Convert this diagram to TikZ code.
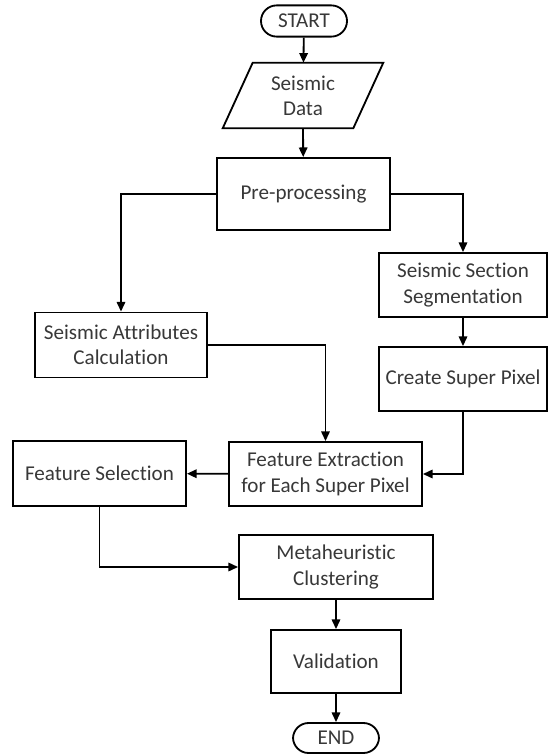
\documentclass[tikz,border=0pt]{standalone}
\usepackage{fontspec}
\setmainfont{Carlito}[Ligatures=NoCommon]
\usepackage{tikz}
\usetikzlibrary{arrows.meta}

\begin{document}
\begin{tikzpicture}[x=0.025cm,y=-0.025cm,
    every node/.style={font=\fontsize{15}{18}\selectfont, text=black!78, align=center, inner sep=1pt},
    box/.style={draw=black, line width=1.3pt, minimum width=#1, minimum height=1.6cm},
    term/.style={draw=black, line width=1.3pt, minimum width=2.15cm, minimum height=0.78cm, rounded corners=0.39cm},
    link/.style={line width=1.3pt, -{Triangle[length=0.24cm,width=0.21cm]}}]
        \useasboundingbox (0,0) rectangle (548,756);
        \node[term] (start) at (304,21) {START};
        \node[minimum width=3.25cm, minimum height=1.625cm] (data) at (303,95.5) {Seismic\\Data};
        \draw[line width=1.3pt] ([xshift=15*0.025cm]data.north west) -- ([xshift=15*0.025cm]data.north east)
            -- ([xshift=-15*0.025cm]data.south east) -- ([xshift=-15*0.025cm]data.south west) -- cycle;
        \node[box=4.325cm, minimum height=1.8cm] (pre) at (303.5,194) {Pre-processing};
        \node[box=4.3cm, minimum height=1.625cm] (attr) at (121,345) {Seismic Attributes\\Calculation};
        \node[box=4.2cm] (seg) at (463,285) {Seismic Section\\Segmentation};
        \node[box=4.2cm] (super) at (463,379) {Create Super Pixel};
        \node[box=4.825cm] (extr) at (325.5,474) {Feature Extraction\\for Each Super Pixel};
        \node[box=4.325cm, minimum height=1.625cm] (sel) at (99.5,473.5) {Feature Selection};
        \node[box=4.85cm] (meta) at (336,567) {Metaheuristic\\Clustering};
        \node[box=3.25cm, minimum height=1.575cm] (valid) at (336,661.5) {Validation};
        \node[term, minimum height=0.75cm] (end) at (336,738) {END};
        % connectors
        \draw[link] (start) -- (data);
        \draw[link] (data.south) -- (pre);
        \draw[link] (pre.west) -| (attr.north);
        \draw[link] (pre.east) -| (seg.north);
        \draw[link] (seg) -- (super);
        \draw[link] (attr.east) -| (extr.north);
        \draw[link] (super.south) |- (extr.east);
        \draw[link] (extr) -- (sel);
        \draw[link] (sel.south) |- (meta.west);
        \draw[link] (meta) -- (valid);
        \draw[link] (valid) -- (end);
    \end{tikzpicture}
\end{document}
